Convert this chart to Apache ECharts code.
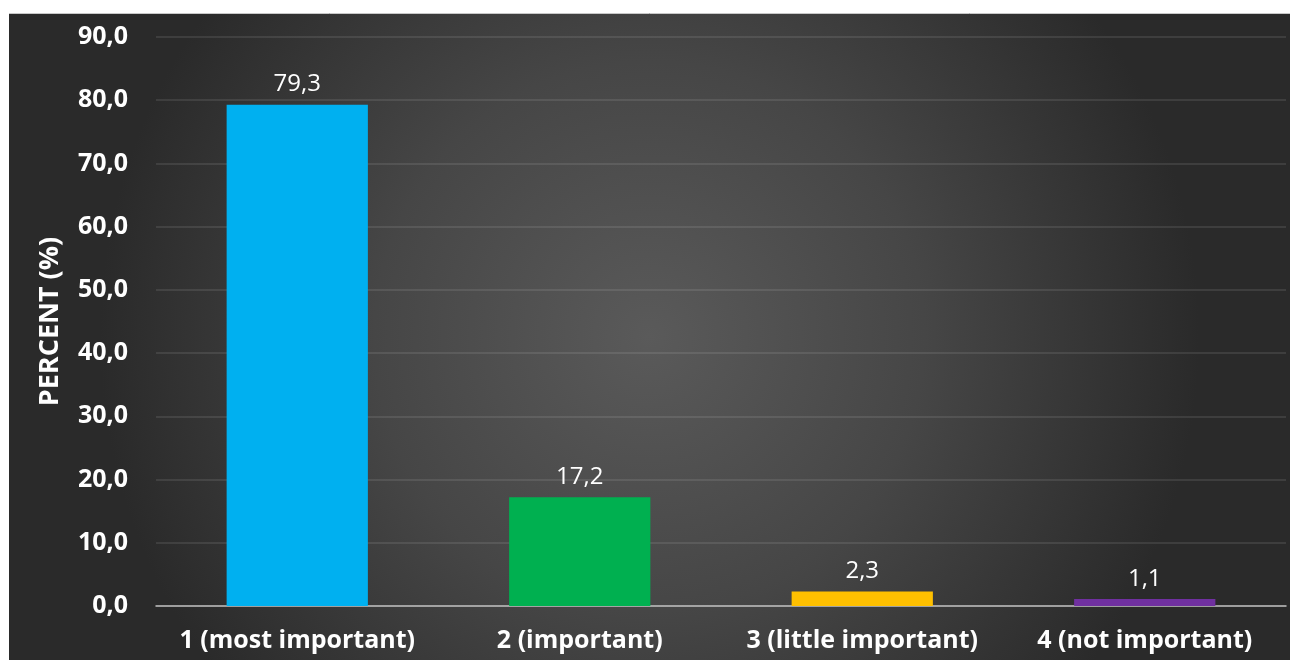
<!DOCTYPE html>
<html>
<head>
<meta charset="utf-8">
<script src="https://cdn.jsdelivr.net/npm/echarts@6/dist/echarts.min.js"></script>
<style>
html,body{margin:0;padding:0;background:#fff;}
#chart{width:1290px;height:660px;}
</style>
</head>
<body>
<div id="chart"></div>
<script>
const categories = ['1 (most important)', '2 (important)', '3 (little important)', '4 (not important)'];
const values = [79.3, 17.2, 2.3, 1.1];
const barColors = ['#00B0F0', '#00B050', '#FFC000', '#7030A0'];
const yAxisName = 'PERCENT (%)';

const chart = echarts.init(document.getElementById('chart'));
const fmt = v => Number(v).toFixed(1).replace('.', ',');
chart.setOption({
  animation: false,
  backgroundColor: '#ffffff',
  graphic: [{
    type: 'rect',
    z: -10,
    silent: true,
    shape: {x: 9, y: 13, width: 1281, height: 647},
    style: {
      fill: new echarts.graphic.RadialGradient(0.5, 0.5, 0.85, [
        {offset: 0, color: '#5a5a5a'},
        {offset: 0.5, color: '#464646'},
        {offset: 1, color: '#2a2a2a'}
      ])
    }
  }, {
    type: 'line',
    z: -9,
    silent: true,
    shape: {x1: 9, y1: 13.5, x2: 1290, y2: 13.5},
    style: {stroke: '#c8c8c8', lineWidth: 1}
  }],
  grid: {left: 156, right: 4, top: 37, bottom: 54, containLabel: false},
  xAxis: {
    type: 'category',
    data: categories,
    axisTick: {show: false},
    axisLine: {lineStyle: {color: '#bfbfbf', width: 1.5}},
    axisLabel: {interval: 0, hideOverlap: false, color: '#ffffff', fontFamily: 'Open Sans', fontWeight: 'bold', fontSize: 25, margin: 22}
  },
  yAxis: {
    type: 'value',
    min: 0, max: 90, interval: 10,
    name: yAxisName,
    nameLocation: 'middle',
    nameGap: 92,
    nameTextStyle: {color: '#ffffff', fontFamily: 'Open Sans', fontWeight: 'bold', fontSize: 27},
    axisLine: {show: false},
    axisTick: {show: false},
    splitLine: {lineStyle: {color: 'rgba(255,255,255,0.13)', width: 1.5}},
    axisLabel: {color: '#ffffff', fontFamily: 'Open Sans', fontWeight: 'bold', fontSize: 25, margin: 28, formatter: fmt}
  },
  series: [{
    type: 'bar',
    data: values.map((v, i) => ({value: v, itemStyle: {color: barColors[i]}})),
    barWidth: '50%',
    label: {show: true, position: 'top', distance: 8, color: '#ffffff', fontFamily: 'Open Sans', fontSize: 24, formatter: p => fmt(p.value)}
  }]
});
</script>
</body>
</html>
